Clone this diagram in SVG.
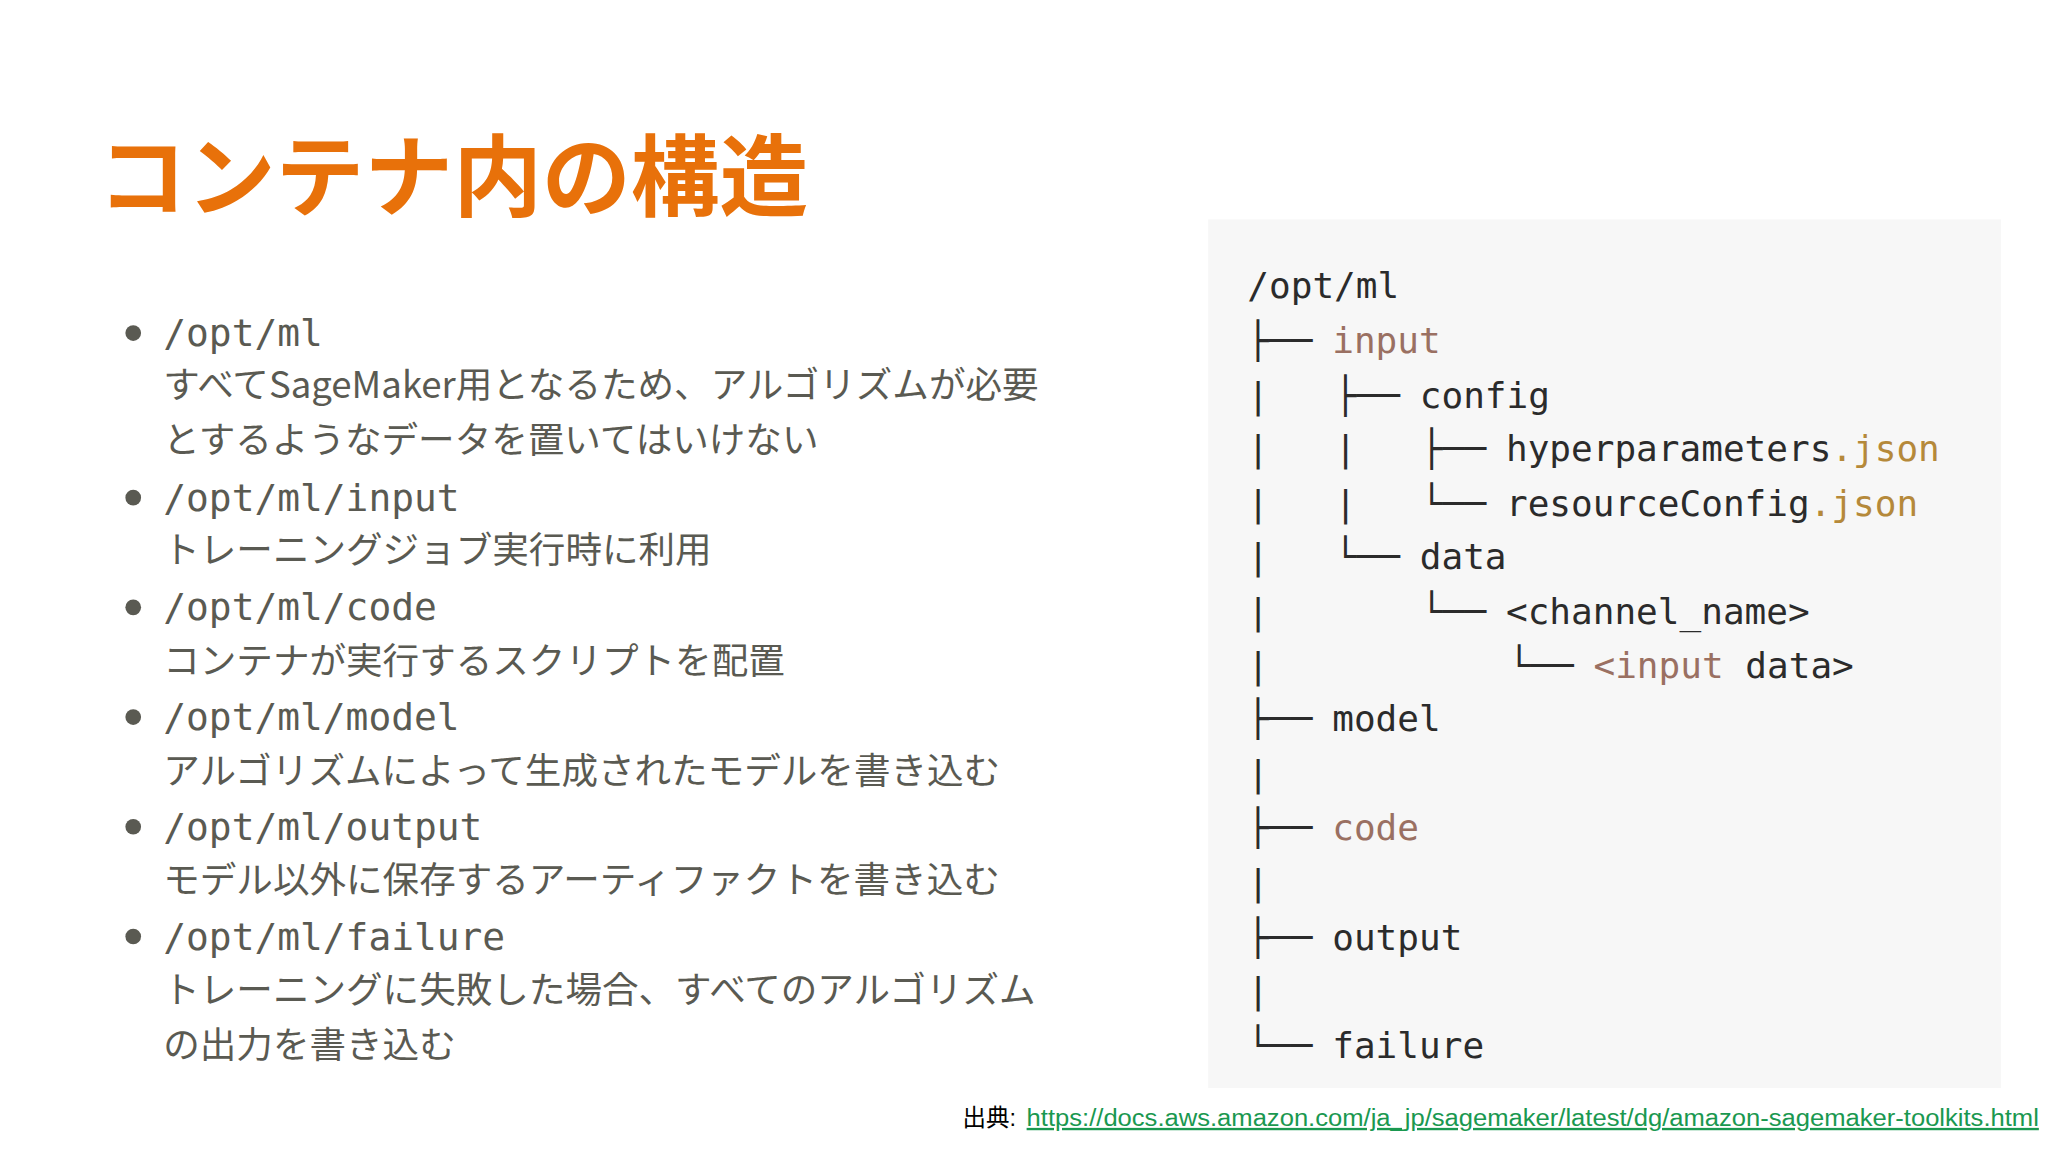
<svg xmlns="http://www.w3.org/2000/svg" width="2048" height="1152" viewBox="0 0 2048 1152">
<style>
.ttl{font-family:"Noto Sans CJK JP",sans-serif;font-weight:bold;font-size:68px;fill:#E8710A}
.m{font-family:"DejaVu Sans Mono","Liberation Mono",monospace;font-size:29px;fill:#5a5a52}
.j{font-family:"Noto Sans CJK JP",sans-serif;font-size:28px;fill:#5a5a52}
.b{fill:#5a5a52}
.t{font-family:"DejaVu Sans Mono","Liberation Mono",monospace;font-size:27.6px;fill:#2b2b2b}
.br{fill:#9a7062}
.js{fill:#b5893a}
.c{font-family:"Liberation Sans","Noto Sans CJK JP",sans-serif;font-size:18px}
</style>
<rect width="2048" height="1152" fill="#ffffff"/>
<g transform="scale(1.30612)">
<g id="title"><text class="ttl" x="75" y="160">コンテナ内の構造</text></g>
<g id="bullets">
<circle class="b" cx="102" cy="255" r="6"/><text class="m" x="125" y="265">/opt/ml</text>
<text class="j" x="125" y="305">すべてSageMaker用となるため、アルゴリズムが必要</text>
<text class="j" x="125" y="347">とするようなデータを置いてはいけない</text>
<circle class="b" cx="102" cy="381" r="6"/><text class="m" x="125" y="391">/opt/ml/input</text>
<text class="j" x="125" y="431">トレーニングジョブ実行時に利用</text>
<circle class="b" cx="102" cy="465" r="6"/><text class="m" x="125" y="475">/opt/ml/code</text>
<text class="j" x="125" y="516">コンテナが実行するスクリプトを配置</text>
<circle class="b" cx="102" cy="549" r="6"/><text class="m" x="125" y="559">/opt/ml/model</text>
<text class="j" x="125" y="600">アルゴリズムによって生成されたモデルを書き込む</text>
<circle class="b" cx="102" cy="633" r="6"/><text class="m" x="125" y="643">/opt/ml/output</text>
<text class="j" x="125" y="684">モデル以外に保存するアーティファクトを書き込む</text>
<circle class="b" cx="102" cy="717" r="6"/><text class="m" x="125" y="727">/opt/ml/failure</text>
<text class="j" x="125" y="768">トレーニングに失敗した場合、すべてのアルゴリズム</text>
<text class="j" x="125" y="810">の出力を書き込む</text>
</g>
<g id="tree">
<rect x="925" y="168" width="607" height="665" fill="#f7f7f7"/>
<text class="t" x="955" y="228">/opt/ml</text>
<text class="t" x="955" y="270">├──</text><text class="t br" x="1020" y="270">input</text>
<text class="t" x="955" y="312">|</text><text class="t" x="1022" y="312">├──</text><text class="t" x="1087" y="312">config</text>
<text class="t" x="955" y="353">|</text><text class="t" x="1022" y="353">|</text><text class="t" x="1088" y="353">├──</text><text class="t" x="1153" y="353">hyperparameters<tspan class="js">.json</tspan></text>
<text class="t" x="955" y="395">|</text><text class="t" x="1022" y="395">|</text><text class="t" x="1088" y="395">└──</text><text class="t" x="1153" y="395">resourceConfig<tspan class="js">.json</tspan></text>
<text class="t" x="955" y="436">|</text><text class="t" x="1022" y="436">└──</text><text class="t" x="1087" y="436">data</text>
<text class="t" x="955" y="478">|</text><text class="t" x="1088" y="478">└──</text><text class="t" x="1153" y="478">&lt;channel_name&gt;</text>
<text class="t" x="955" y="519">|</text><text class="t" x="1155" y="519">└──</text><text class="t" x="1220" y="519"><tspan class="br">&lt;input</tspan> data&gt;</text>
<text class="t" x="955" y="560">├──</text><text class="t" x="1020" y="560">model</text>
<text class="t" x="955" y="602">|</text>
<text class="t" x="955" y="643">├──</text><text class="t br" x="1020" y="643">code</text>
<text class="t" x="955" y="685">|</text>
<text class="t" x="955" y="727">├──</text><text class="t" x="1020" y="727">output</text>
<text class="t" x="955" y="768">|</text>
<text class="t" x="955" y="810">└──</text><text class="t" x="1020" y="810">failure</text>
</g>
<g id="citation">
<text class="c" x="737" y="862" fill="#000">出典:</text>
<text class="c" x="786" y="862" fill="#1a9850" text-decoration="underline" textLength="775" lengthAdjust="spacingAndGlyphs">https://docs.aws.amazon.com/ja_jp/sagemaker/latest/dg/amazon-sagemaker-toolkits.html</text>
</g>
</g>
</svg>
